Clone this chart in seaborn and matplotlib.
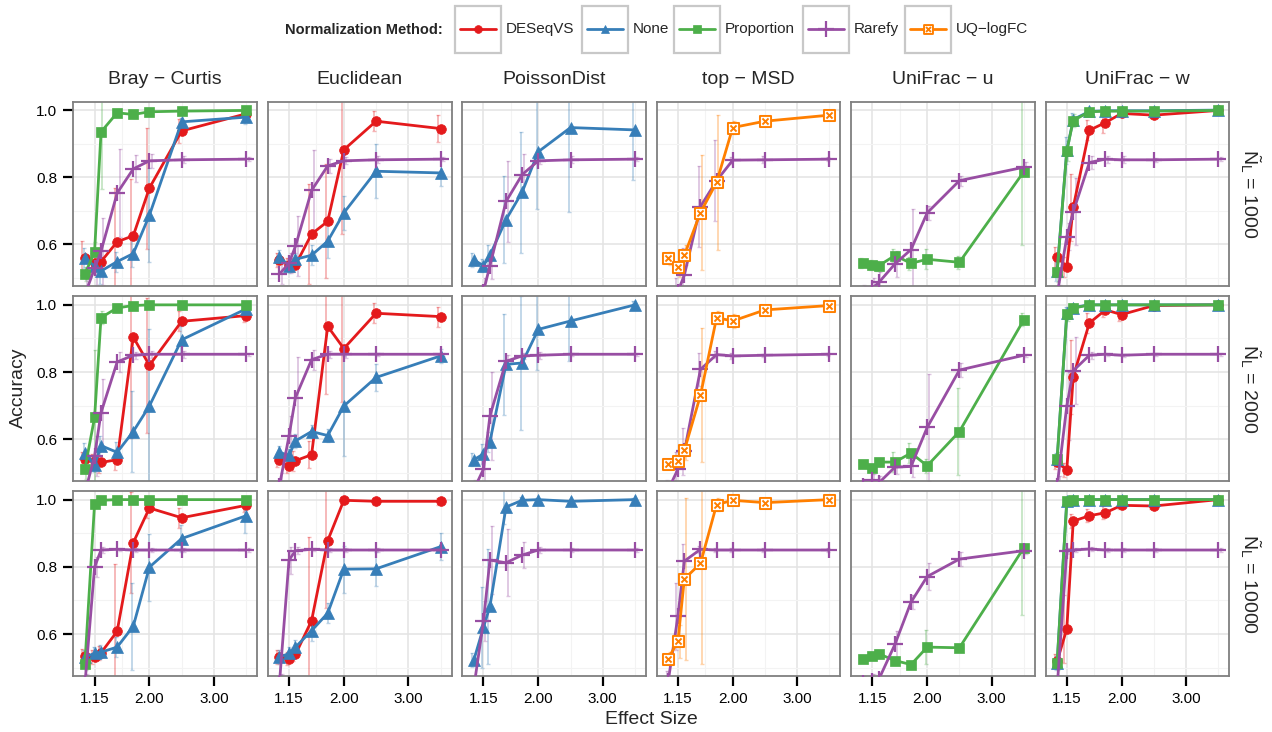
import numpy as np
import pandas as pd
import seaborn as sns
import matplotlib
matplotlib.use("Agg")
import matplotlib.pyplot as plt
from matplotlib.path import Path
from matplotlib.lines import Line2D
from matplotlib.patches import Rectangle
from matplotlib.ticker import FixedLocator

# ---------------------------------------------------------------- data
EFFECT_SIZES = [1.0, 1.15, 1.25, 1.5, 1.75, 2.0, 2.5, 3.5]
X_TICKS = [1.15, 2.0, 3.0]
X_TICK_LABELS = ["1.15", "2.00", "3.00"]
Y_TICKS = [0.6, 0.8, 1.0]
Y_TICK_LABELS = ["0.6", "0.8", "1.0"]
DISTANCES = ["Bray \u2212 Curtis", "Euclidean", "PoissonDist",
             "top \u2212 MSD", "UniFrac \u2212 u", "UniFrac \u2212 w"]
LIBRARY_SIZES = [1000, 2000, 10000]
METHODS = ["DESeqVS", "None", "Proportion", "Rarefy", "UQ\u2212logFC"]

# mean accuracy, one row per median library size (1000, 2000, 10000)
BRAY_DESEQVS = [[0.560, 0.545, 0.549, 0.608, 0.626, 0.768, 0.938, 0.989],
                [0.541, 0.535, 0.531, 0.539, 0.904, 0.820, 0.951, 0.968],
                [0.534, 0.531, 0.544, 0.608, 0.872, 0.975, 0.946, 0.983]]
BRAY_NONE = [[0.561, 0.535, 0.521, 0.549, 0.573, 0.687, 0.965, 0.979],
             [0.559, 0.522, 0.581, 0.561, 0.623, 0.699, 0.896, 0.988],
             [0.532, 0.542, 0.546, 0.561, 0.623, 0.799, 0.884, 0.952]]
BRAY_PROPORTION = [[0.512, 0.578, 0.935, 0.992, 0.987, 0.995, 0.997, 0.999],
                   [0.512, 0.665, 0.962, 0.991, 0.998, 1.000, 1.000, 1.000],
                   [0.512, 0.988, 0.998, 1.000, 1.000, 1.000, 1.000, 1.000]]
BRAY_RAREFY = [[0.450, 0.529, 0.580, 0.753, 0.825, 0.849, 0.852, 0.854],
               [0.440, 0.550, 0.679, 0.830, 0.850, 0.853, 0.853, 0.853],
               [0.450, 0.799, 0.850, 0.852, 0.850, 0.850, 0.850, 0.850]]

EUCLID_DESEQVS = [[0.554, 0.540, 0.539, 0.631, 0.669, 0.882, 0.967, 0.945],
                  [0.537, 0.519, 0.536, 0.554, 0.936, 0.870, 0.975, 0.965],
                  [0.532, 0.527, 0.539, 0.640, 0.878, 0.998, 0.995, 0.995]]
EUCLID_NONE = [[0.564, 0.536, 0.556, 0.568, 0.610, 0.694, 0.818, 0.813],
               [0.561, 0.552, 0.595, 0.623, 0.611, 0.699, 0.784, 0.848],
               [0.531, 0.542, 0.561, 0.610, 0.662, 0.793, 0.794, 0.860]]
EUCLID_RAREFY = [[0.512, 0.544, 0.595, 0.761, 0.834, 0.849, 0.852, 0.854],
                 [0.460, 0.610, 0.724, 0.837, 0.853, 0.853, 0.853, 0.853],
                 [0.450, 0.820, 0.848, 0.852, 0.850, 0.850, 0.850, 0.850]]

POISSON_NONE = [[0.554, 0.537, 0.568, 0.674, 0.756, 0.876, 0.948, 0.941],
                [0.539, 0.556, 0.593, 0.823, 0.827, 0.927, 0.952, 1.000],
                [0.522, 0.620, 0.682, 0.978, 0.998, 1.000, 0.995, 1.000]]
POISSON_RAREFY = [[0.430, 0.460, 0.537, 0.728, 0.808, 0.849, 0.852, 0.854],
                  [0.450, 0.511, 0.669, 0.832, 0.848, 0.850, 0.853, 0.853],
                  [0.440, 0.638, 0.820, 0.812, 0.835, 0.850, 0.850, 0.850]]

MSD_RAREFY = [[0.420, 0.460, 0.509, 0.713, 0.790, 0.851, 0.852, 0.854],
              [0.450, 0.511, 0.564, 0.808, 0.852, 0.848, 0.850, 0.853],
              [0.460, 0.653, 0.817, 0.852, 0.850, 0.850, 0.850, 0.850]]
MSD_UQLOGFC = [[0.559, 0.532, 0.568, 0.695, 0.785, 0.948, 0.967, 0.985],
               [0.527, 0.536, 0.567, 0.731, 0.962, 0.952, 0.985, 0.998],
               [0.527, 0.578, 0.764, 0.810, 0.985, 0.998, 0.991, 1.000]]

UNIU_PROPORTION = [[0.544, 0.539, 0.537, 0.567, 0.544, 0.556, 0.547, 0.817],
                   [0.526, 0.514, 0.532, 0.532, 0.559, 0.521, 0.623, 0.956],
                   [0.527, 0.536, 0.541, 0.521, 0.509, 0.561, 0.559, 0.857]]
UNIU_RAREFY = [[0.450, 0.470, 0.487, 0.542, 0.585, 0.694, 0.790, 0.830],
               [0.460, 0.478, 0.470, 0.517, 0.519, 0.635, 0.806, 0.850],
               [0.455, 0.460, 0.465, 0.569, 0.695, 0.771, 0.823, 0.848]]

UNIW_DESEQVS = [[0.562, 0.534, 0.711, 0.940, 0.963, 0.990, 0.985, 0.999],
                [0.531, 0.509, 0.786, 0.946, 0.985, 0.971, 0.998, 1.000],
                [0.519, 0.615, 0.936, 0.952, 0.961, 0.983, 0.981, 1.000]]
UNIW_NONE = [[0.520, 0.880, 0.972, 0.996, 0.998, 0.998, 0.998, 1.000],
             [0.540, 0.975, 0.992, 1.000, 1.000, 1.000, 1.000, 1.000],
             [0.514, 0.997, 1.000, 1.000, 1.000, 1.000, 1.000, 1.000]]
UNIW_PROPORTION = [[0.517, 0.879, 0.969, 0.995, 0.997, 0.997, 0.997, 0.999],
                   [0.541, 0.973, 0.990, 1.000, 1.000, 1.000, 1.000, 1.000],
                   [0.514, 0.995, 1.000, 1.000, 1.000, 1.000, 1.000, 1.000]]
UNIW_RAREFY = [[0.450, 0.623, 0.697, 0.844, 0.854, 0.852, 0.852, 0.854],
               [0.460, 0.699, 0.804, 0.850, 0.853, 0.850, 0.853, 0.853],
               [0.440, 0.847, 0.850, 0.853, 0.850, 0.850, 0.850, 0.850]]

# standard deviation of accuracy across replicates (error bar half-widths)
BRAY_DESEQVS_SD = [[0.05, 0.03, 0.04, 0.16, 0.17, 0.18, 0.035, 0.01],
                   [0.02, 0.02, 0.03, 0.03, 0.30, 0.20, 0.03, 0.02],
                   [0.02, 0.02, 0.02, 0.20, 0.15, 0.03, 0.03, 0.02]]
BRAY_NONE_SD = [[0.03, 0.02, 0.04, 0.03, 0.04, 0.14, 0.01, 0.02],
                [0.03, 0.02, 0.03, 0.03, 0.12, 0.23, 0.04, 0.01],
                [0.02, 0.02, 0.02, 0.03, 0.13, 0.10, 0.04, 0.05]]
BRAY_PROPORTION_SD = [[0.02, 0.03, 0.17, 0.01, 0.01, 0.005, 0.005, 0.005],
                      [0.03, 0.20, 0.02, 0.005, 0.005, 0.005, 0.005, 0.005],
                      [0.02, 0.01, 0.005, 0.005, 0.005, 0.005, 0.005, 0.005]]
BRAY_RAREFY_SD = [[0.05, 0.05, 0.10, 0.13, 0.04, 0.02, 0.01, 0.005],
                  [0.04, 0.06, 0.10, 0.03, 0.01, 0.01, 0.01, 0.005],
                  [0.03, 0.03, 0.01, 0.005, 0.005, 0.005, 0.005, 0.005]]

EUCLID_DESEQVS_SD = [[0.02, 0.02, 0.02, 0.15, 0.17, 0.25, 0.03, 0.04],
                     [0.02, 0.02, 0.03, 0.04, 0.20, 0.16, 0.03, 0.03],
                     [0.02, 0.02, 0.02, 0.25, 0.20, 0.01, 0.01, 0.01]]
EUCLID_NONE_SD = [[0.02, 0.02, 0.02, 0.03, 0.05, 0.05, 0.08, 0.04],
                  [0.02, 0.02, 0.02, 0.02, 0.02, 0.15, 0.04, 0.02],
                  [0.02, 0.02, 0.02, 0.03, 0.03, 0.07, 0.05, 0.04]]
EUCLID_RAREFY_SD = [[0.03, 0.03, 0.09, 0.12, 0.02, 0.01, 0.01, 0.005],
                    [0.04, 0.06, 0.12, 0.03, 0.01, 0.01, 0.005, 0.005],
                    [0.03, 0.04, 0.01, 0.005, 0.005, 0.005, 0.005, 0.005]]

POISSON_NONE_SD = [[0.02, 0.02, 0.03, 0.13, 0.18, 0.17, 0.25, 0.15],
                   [0.02, 0.03, 0.03, 0.15, 0.20, 0.12, 0.12, 0.01],
                   [0.02, 0.12, 0.17, 0.05, 0.01, 0.005, 0.005, 0.005]]
POISSON_RAREFY_SD = [[0.03, 0.04, 0.04, 0.12, 0.06, 0.01, 0.01, 0.005],
                     [0.03, 0.04, 0.13, 0.02, 0.01, 0.01, 0.005, 0.005],
                     [0.03, 0.06, 0.10, 0.10, 0.04, 0.01, 0.005, 0.005]]

MSD_RAREFY_SD = [[0.03, 0.04, 0.08, 0.12, 0.12, 0.01, 0.01, 0.005],
                 [0.03, 0.05, 0.07, 0.05, 0.01, 0.01, 0.005, 0.005],
                 [0.03, 0.10, 0.05, 0.01, 0.005, 0.005, 0.005, 0.005]]
MSD_UQLOGFC_SD = [[0.02, 0.03, 0.03, 0.17, 0.20, 0.02, 0.01, 0.01],
                  [0.01, 0.02, 0.03, 0.20, 0.02, 0.02, 0.01, 0.005],
                  [0.02, 0.05, 0.24, 0.30, 0.02, 0.01, 0.01, 0.005]]

UNIU_PROPORTION_SD = [[0.015, 0.015, 0.015, 0.02, 0.02, 0.03, 0.02, 0.22],
                      [0.01, 0.01, 0.01, 0.03, 0.03, 0.02, 0.13, 0.02],
                      [0.01, 0.01, 0.01, 0.01, 0.01, 0.05, 0.01, 0.20]]
UNIU_RAREFY_SD = [[0.03, 0.03, 0.03, 0.04, 0.12, 0.02, 0.015, 0.015],
                  [0.02, 0.02, 0.02, 0.02, 0.03, 0.16, 0.02, 0.005],
                  [0.02, 0.02, 0.02, 0.04, 0.02, 0.04, 0.02, 0.01]]

UNIW_DESEQVS_SD = [[0.03, 0.03, 0.10, 0.03, 0.03, 0.01, 0.01, 0.005],
                   [0.02, 0.02, 0.11, 0.03, 0.02, 0.02, 0.005, 0.005],
                   [0.02, 0.10, 0.02, 0.02, 0.02, 0.01, 0.01, 0.005]]
UNIW_NONE_SD = [[0.03, 0.04, 0.02, 0.005, 0.005, 0.005, 0.005, 0.005],
                [0.02, 0.02, 0.01, 0.005, 0.005, 0.005, 0.005, 0.005],
                [0.02, 0.005, 0.005, 0.005, 0.005, 0.005, 0.005, 0.005]]
UNIW_PROPORTION_SD = [[0.03, 0.03, 0.02, 0.005, 0.005, 0.005, 0.005, 0.005],
                      [0.02, 0.02, 0.01, 0.005, 0.005, 0.005, 0.005, 0.005],
                      [0.02, 0.005, 0.005, 0.005, 0.005, 0.005, 0.005, 0.005]]
UNIW_RAREFY_SD = [[0.03, 0.04, 0.10, 0.02, 0.01, 0.01, 0.005, 0.005],
                  [0.03, 0.10, 0.10, 0.01, 0.005, 0.005, 0.005, 0.005],
                  [0.03, 0.01, 0.005, 0.005, 0.005, 0.005, 0.005, 0.005]]

SERIES = {
    DISTANCES[0]: {"DESeqVS": (BRAY_DESEQVS, BRAY_DESEQVS_SD),
                   "None": (BRAY_NONE, BRAY_NONE_SD),
                   "Proportion": (BRAY_PROPORTION, BRAY_PROPORTION_SD),
                   "Rarefy": (BRAY_RAREFY, BRAY_RAREFY_SD)},
    DISTANCES[1]: {"DESeqVS": (EUCLID_DESEQVS, EUCLID_DESEQVS_SD),
                   "None": (EUCLID_NONE, EUCLID_NONE_SD),
                   "Rarefy": (EUCLID_RAREFY, EUCLID_RAREFY_SD)},
    DISTANCES[2]: {"None": (POISSON_NONE, POISSON_NONE_SD),
                   "Rarefy": (POISSON_RAREFY, POISSON_RAREFY_SD)},
    DISTANCES[3]: {"Rarefy": (MSD_RAREFY, MSD_RAREFY_SD),
                   "UQ\u2212logFC": (MSD_UQLOGFC, MSD_UQLOGFC_SD)},
    DISTANCES[4]: {"Proportion": (UNIU_PROPORTION, UNIU_PROPORTION_SD),
                   "Rarefy": (UNIU_RAREFY, UNIU_RAREFY_SD)},
    DISTANCES[5]: {"DESeqVS": (UNIW_DESEQVS, UNIW_DESEQVS_SD),
                   "None": (UNIW_NONE, UNIW_NONE_SD),
                   "Proportion": (UNIW_PROPORTION, UNIW_PROPORTION_SD),
                   "Rarefy": (UNIW_RAREFY, UNIW_RAREFY_SD)},
}

records = []
for dist, methods in SERIES.items():
    for method, (means, sds) in methods.items():
        for li, lib in enumerate(LIBRARY_SIZES):
            for es, acc, sd in zip(EFFECT_SIZES, means[li], sds[li]):
                records.append(dict(distance=dist, method=method, library=lib,
                                    effect=es, accuracy=acc, sd=sd))
df = pd.DataFrame(records)

# ---------------------------------------------------------------- styling
sns.set_theme(style="white")
plt.rcParams["font.family"] = ["Liberation Sans", "DejaVu Sans"]
plt.rcParams["mathtext.fontset"] = "custom"
plt.rcParams["mathtext.rm"] = "Liberation Sans"
plt.rcParams["mathtext.it"] = "Liberation Sans"

PALETTE = {"DESeqVS": "#E41A1C", "None": "#377EB8", "Proportion": "#4DAF4A",
           "Rarefy": "#984EA3", "UQ\u2212logFC": "#FF7F00"}

BOXED_X = Path(
    [(-1, -1), (1, -1), (1, 1), (-1, 1), (-1, -1),
     (-0.55, -0.55), (0.55, 0.55), (-0.55, 0.55), (0.55, -0.55)],
    [Path.MOVETO, Path.LINETO, Path.LINETO, Path.LINETO, Path.CLOSEPOLY,
     Path.MOVETO, Path.LINETO, Path.MOVETO, Path.LINETO])

MARKER_STYLE = {
    "DESeqVS": dict(marker="o", markersize=7.0, markerfacecolor=None, markeredgewidth=0.5),
    "None": dict(marker="^", markersize=8.0, markerfacecolor=None, markeredgewidth=0.5),
    "Proportion": dict(marker="s", markersize=7.0, markerfacecolor=None, markeredgewidth=0.5),
    "Rarefy": dict(marker="+", markersize=11.0, markerfacecolor=None, markeredgewidth=1.6),
    "UQ\u2212logFC": dict(marker=BOXED_X, markersize=8.0, markerfacecolor="white", markeredgewidth=1.4),
}

LINE_W = 2.0
DODGE = 0.1

W, H = 1272, 732
fig, axes = plt.subplots(3, 6, figsize=(W / 100, H / 100), dpi=100, sharex=True, sharey=True)
fig.subplots_adjust(left=73.3 / W, right=1229.3 / W, top=1 - 101.7 / H,
                    bottom=1 - 676.0 / H, wspace=0.058, hspace=0.054)

for r, lib in enumerate(LIBRARY_SIZES):
    for c, dist in enumerate(DISTANCES):
        ax = axes[r, c]
        ax.set_facecolor("white")
        present = [m for m in METHODS if m in SERIES[dist]]
        n = len(present)
        for i, method in enumerate(present):
            sub = df[(df.distance == dist) & (df.library == lib) & (df.method == method)]
            col = PALETTE[method]
            off = -DODGE / 2 + DODGE / n * (i + 0.5)
            ax.errorbar(sub.effect + off, sub.accuracy, yerr=sub.sd, fmt="none",
                        ecolor=col, alpha=0.33, elinewidth=1.3, capsize=1.3,
                        capthick=1.0, zorder=2)
        for method in present:
            sub = df[(df.distance == dist) & (df.library == lib) & (df.method == method)]
            col = PALETTE[method]
            st = dict(MARKER_STYLE[method])
            if st["markerfacecolor"] is None:
                st["markerfacecolor"] = col
            sns.lineplot(data=sub, x="effect", y="accuracy", ax=ax, color=col,
                         linewidth=LINE_W, markeredgecolor=col, errorbar=None,
                         legend=False, zorder=3, **st)

        ax.set_xlim(0.82, 3.67)
        ax.set_ylim(0.475, 1.025)
        ax.xaxis.set_major_locator(FixedLocator(X_TICKS))
        ax.yaxis.set_major_locator(FixedLocator(Y_TICKS))
        ax.xaxis.set_minor_locator(FixedLocator([1.575, 2.5, 3.5]))
        ax.yaxis.set_minor_locator(FixedLocator([0.5, 0.7, 0.9]))
        ax.set_xticklabels(X_TICK_LABELS)
        ax.set_yticklabels(Y_TICK_LABELS)
        ax.grid(which="major", color="#e3e3e3", linewidth=1.1, zorder=0)
        ax.grid(which="minor", color="#f3f3f3", linewidth=0.8, zorder=0)
        ax.set_axisbelow(True)
        ax.set_xlabel("")
        ax.set_ylabel("")
        for sp in ax.spines.values():
            sp.set_color("#7f7f7f")
            sp.set_linewidth(1.3)
        ax.tick_params(which="major", length=7, width=1.6, color="black",
                       labelsize=11, labelcolor="black", pad=4.5)
        ax.tick_params(which="minor", length=0)
        ax.tick_params(axis="x", bottom=(r == 2), labelbottom=(r == 2))
        ax.tick_params(axis="y", left=(c == 0), labelleft=(c == 0))

        if r == 0:
            ax.annotate(dist, xy=(0.5, 1.0), xycoords="axes fraction",
                        xytext=(0, 16), textcoords="offset points",
                        ha="center", va="center", fontsize=14)
        if c == 5:
            ax.annotate(r"$\tilde{\mathrm{N}}_{\mathrm{L}}$ = " + str(lib),
                        xy=(1.0, 0.5), xycoords="axes fraction",
                        xytext=(15, 0), textcoords="offset points",
                        ha="center", va="center", rotation=270, fontsize=14)

fig.text(18 / W, 1 - 388 / H, "Accuracy", rotation=90, ha="center", va="center", fontsize=14)
fig.text(651 / W, 1 - 720 / H, "Effect Size", ha="center", va="center", fontsize=14)

# ---------------------------------------------------------------- legend
fig.text(443 / W, 1 - 30 / H, "Normalization Method:", ha="right", va="center",
         fontsize=10.5, fontweight="bold")
BOX_LEFT = [455, 582, 674, 803, 905]
BOX_W, BOX_TOP, BOX_BOTTOM = 46, 6, 52.5
yc = (BOX_TOP + BOX_BOTTOM) / 2
for x0, method in zip(BOX_LEFT, METHODS):
    col = PALETTE[method]
    fig.patches.append(Rectangle((x0 / W, 1 - BOX_BOTTOM / H), BOX_W / W,
                                 (BOX_BOTTOM - BOX_TOP) / H, transform=fig.transFigure,
                                 fill=False, edgecolor="#c8c8c8", linewidth=1.6))
    st = dict(MARKER_STYLE[method])
    if st["markerfacecolor"] is None:
        st["markerfacecolor"] = col
    if method != "Rarefy":
        st["markersize"] = st["markersize"] * 0.8
    fig.lines.append(Line2D([(x0 + 5) / W, (x0 + BOX_W / 2) / W, (x0 + BOX_W - 5) / W],
                            [1 - yc / H] * 3, transform=fig.transFigure, color=col,
                            linewidth=LINE_W, markevery=[1], markeredgecolor=col, **st))
    fig.text((x0 + BOX_W + 5) / W, 1 - yc / H, method, ha="left", va="center", fontsize=11)

fig.savefig("out.png", dpi=100, facecolor="white")
